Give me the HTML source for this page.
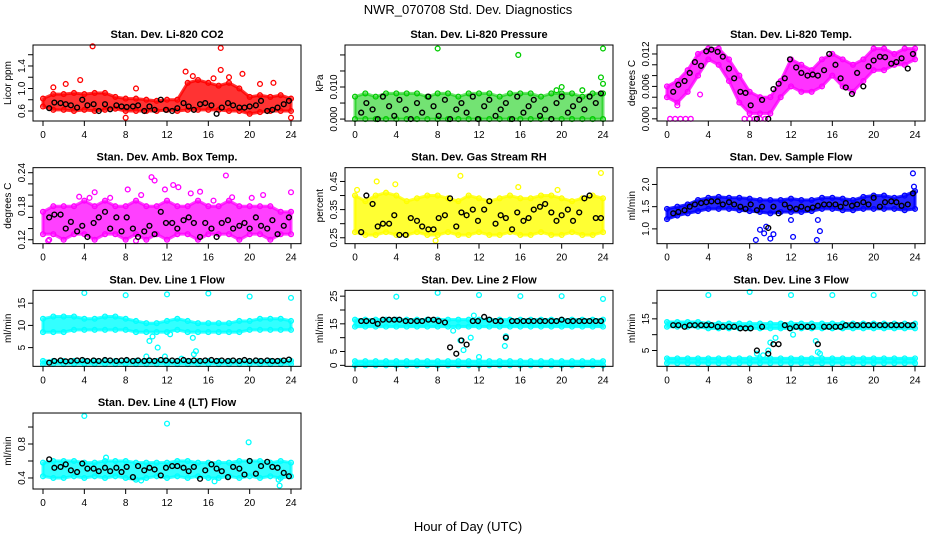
<!DOCTYPE html>
<html><head><meta charset="utf-8">
<style>
html,body{margin:0;padding:0;background:#fff;}
svg{display:block;font-family:"Liberation Sans",sans-serif;}
</style></head>
<body>
<svg id="chart" width="936" height="540" viewBox="0 0 936 540">
<text x="468" y="14" text-anchor="middle" font-size="13">NWR_070708  Std. Dev. Diagnostics</text>
<text x="468" y="531" text-anchor="middle" font-size="13">Hour of Day (UTC)</text>
</svg>
<script>
const bandH=[0,1,2,3,4,5,6,7,8,9,10,11,12,13,14,15,16,17,18,19,20,21,22,23,24];
const blackH=[0.6,1.1,1.7,2.2,2.7,3.3,3.8,4.3,4.9,5.4,6.0,6.5,7.1,7.6,8.1,8.7,9.2,9.8,10.3,10.8,11.4,11.9,12.5,13.0,13.6,14.1,14.6,15.2,15.7,16.3,16.8,17.3,17.9,18.4,19.0,19.5,20.0,20.6,21.1,21.7,22.2,22.7,23.3,23.8];
const xTicks=[0,4,8,12,16,20,24];

const co2Lo=[0.68,0.62,0.62,0.6,0.62,0.6,0.62,0.64,0.6,0.6,0.6,0.6,0.62,0.6,0.62,0.62,0.62,0.62,0.6,0.6,0.55,0.58,0.6,0.6,0.6];
const co2Hi=[0.82,0.9,0.9,0.92,0.9,0.92,0.92,0.85,0.82,0.82,0.8,0.78,0.8,0.8,1.1,1.15,1.1,1.05,1.1,1.0,0.85,0.88,0.85,0.88,0.82];
const co2OutH=[4.8,17.2,17.2,13.8,19.3,8.0,24,1.0,3.6,22.3,18.0,14.5,16.5,21.0,9.0,2.2];
const co2OutV=[1.75,1.72,1.33,1.3,1.26,0.48,0.48,1.02,1.15,1.1,1.2,1.22,1.18,1.08,1.0,1.08];
const co2Black=[0.65,0.75,0.74,0.72,0.70,0.66,0.80,0.70,0.72,0.60,0.72,0.63,0.70,0.68,0.67,0.68,0.70,0.60,0.68,0.62,0.80,0.62,0.60,0.65,0.74,0.68,0.62,0.72,0.74,0.70,0.55,0.66,0.74,0.70,0.66,0.66,0.68,0.70,0.78,0.60,0.62,0.66,0.72,0.78];

const presLo=[0,0,0,0,0,0,0,0,0,0,0,0,0,0,0,0,0,0,0,0,0,0,0,0,0];
const presHi=[0.007,0.008,0.007,0.008,0.008,0.008,0.008,0.007,0.008,0.008,0.007,0.008,0.008,0.008,0.007,0.008,0.008,0.008,0.007,0.008,0.008,0.008,0.007,0.008,0.008];
const presOutH=[8,15.8,24,23.8,24,20,19.5,22];
const presOutV=[0.022,0.020,0.022,0.013,0.011,0.010,0.009,0.009];
const presBlack=[0.002,0.005,0.003,0.000,0.007,0.004,0.001,0.006,0.003,0.000,0.005,0.002,0.007,0.004,0.001,0.006,0.000,0.003,0.005,0.002,0.007,0.000,0.004,0.006,0.001,0.003,0.005,0.000,0.007,0.002,0.004,0.006,0.001,0.003,0.000,0.005,0.007,0.002,0.004,0.006,0.003,0.007,0.005,0.008];

const tempLo=[0.004,0.003,0.005,0.008,0.011,0.010,0.007,0.003,0.001,0.001,0.001,0.004,0.006,0.005,0.005,0.006,0.008,0.006,0.005,0.007,0.009,0.009,0.010,0.010,0.011];
const tempHi=[0.006,0.007,0.009,0.012,0.013,0.013,0.011,0.008,0.005,0.004,0.004,0.007,0.011,0.010,0.009,0.011,0.012,0.011,0.010,0.011,0.013,0.013,0.012,0.013,0.013];
const tempOutH=[0.3,0.8,1.3,1.8,2.3,7.5,8.0,8.5,9.0,9.5,1.0,3.2];
const tempOutV=[0,0,0,0,0,0,0,0,0,0,0.0025,0.0045];
const tempBlack=[0.005,0.0063,0.007,0.0085,0.0105,0.0098,0.0125,0.0128,0.0124,0.0115,0.0093,0.0075,0.005,0.0048,0.0025,0.0,0.0035,0.0,0.0055,0.0065,0.0075,0.0110,0.0095,0.0085,0.008,0.0082,0.0080,0.0090,0.0120,0.0100,0.0075,0.0058,0.0046,0.0085,0.0060,0.0097,0.0108,0.0115,0.0114,0.0102,0.0105,0.0112,0.0093,0.0120];

const ambLo=[0.13,0.13,0.12,0.13,0.13,0.12,0.13,0.13,0.12,0.13,0.12,0.13,0.12,0.13,0.13,0.12,0.13,0.13,0.13,0.12,0.13,0.13,0.12,0.13,0.13];
const ambHi=[0.17,0.18,0.18,0.18,0.19,0.18,0.19,0.18,0.18,0.19,0.18,0.18,0.19,0.18,0.18,0.19,0.18,0.18,0.19,0.18,0.18,0.18,0.18,0.17,0.17];
const ambOutH=[0.5,5.0,8.2,9.5,10.5,10.8,11.8,12.6,13.1,14.3,15.2,17.7,18.3,21.3,24,3.5,6.5,16.5,20.2,0.6,4.5,9.0];
const ambOutV=[0.118,0.205,0.210,0.200,0.232,0.226,0.210,0.218,0.214,0.203,0.206,0.235,0.196,0.200,0.205,0.197,0.195,0.190,0.195,0.12,0.195,0.118];
const ambBlack=[0.16,0.165,0.165,0.14,0.152,0.135,0.145,0.125,0.15,0.16,0.17,0.14,0.16,0.135,0.16,0.14,0.125,0.135,0.145,0.13,0.17,0.15,0.15,0.14,0.155,0.16,0.15,0.125,0.15,0.14,0.125,0.15,0.155,0.14,0.145,0.15,0.14,0.16,0.145,0.14,0.155,0.13,0.145,0.16];

const rhLo=[0.27,0.26,0.26,0.27,0.26,0.26,0.27,0.26,0.26,0.27,0.26,0.26,0.27,0.26,0.26,0.27,0.26,0.26,0.27,0.26,0.26,0.27,0.26,0.26,0.27];
const rhHi=[0.40,0.38,0.40,0.41,0.40,0.38,0.39,0.40,0.40,0.39,0.38,0.40,0.39,0.38,0.39,0.40,0.39,0.39,0.40,0.40,0.39,0.38,0.39,0.40,0.39];
const rhOutH=[0.2,2.1,3.9,10.2,23.8,15.8,19.6,7.8];
const rhOutV=[0.42,0.45,0.44,0.47,0.48,0.43,0.42,0.24];
const rhBlack=[0.27,0.40,0.37,0.29,0.30,0.30,0.33,0.26,0.26,0.32,0.31,0.29,0.28,0.28,0.32,0.33,0.39,0.29,0.34,0.33,0.35,0.31,0.35,0.38,0.30,0.33,0.32,0.28,0.34,0.31,0.32,0.35,0.36,0.37,0.34,0.31,0.33,0.35,0.31,0.34,0.39,0.40,0.32,0.32];

const sfLo=[1.22,1.3,1.35,1.4,1.45,1.45,1.45,1.42,1.4,1.38,1.35,1.38,1.38,1.38,1.4,1.45,1.45,1.42,1.42,1.45,1.45,1.45,1.45,1.42,1.45];
const sfHi=[1.45,1.5,1.55,1.65,1.7,1.72,1.7,1.7,1.68,1.65,1.65,1.65,1.68,1.65,1.65,1.7,1.7,1.68,1.65,1.72,1.75,1.75,1.7,1.75,1.85];
const sfOutH=[8.6,9.0,9.4,9.6,10.0,10.3,12.2,14.5,14.8,14.6,12.0,23.8,23.9];
const sfOutV=[0.75,0.98,0.9,1.05,0.78,0.88,0.82,0.75,0.95,1.2,1.2,2.25,1.95];
const sfBlack=[1.35,1.38,1.42,1.5,1.55,1.58,1.6,1.62,1.62,1.55,1.6,1.55,1.5,1.45,1.55,1.42,1.5,1.02,1.5,1.35,1.55,1.48,1.45,1.5,1.45,1.48,1.52,1.55,1.55,1.55,1.5,1.58,1.52,1.55,1.6,1.55,1.7,1.5,1.6,1.62,1.6,1.52,1.55,1.8];

const l1Lo=[8.5,8.5,8.5,9,9,9,9,9,9,8.5,8.5,8.5,8.5,9,8.5,8.5,8.5,8.5,8.5,8.5,9,9,9,9,9];
const l1Hi=[11.5,12,12,12,11.5,11.5,12,12,11.5,11,10.5,10.5,11,11.5,11,10.5,10.5,10.5,10.5,11,11,11.5,11.5,11.5,11];
const l1Lo2=[1.3,1.3,1.3,1.3,1.3,1.3,1.3,1.3,1.3,1.3,1.3,1.3,1.3,1.3,1.3,1.3,1.3,1.3,1.3,1.3,1.3,1.3,1.3,1.3,1.3];
const l1Hi2=[2.0,2.0,2.0,2.0,2.0,2.0,2.0,2.0,2.0,2.0,2.0,2.0,2.0,2.0,2.0,2.0,2.0,2.0,2.0,2.0,2.0,2.0,2.0,2.0,2.0];
const l1OutH=[4,8,12,16,20,24,10,10.3,10.6,11.1,11.8,14.5,14.6,14.8,12.3,13.4];
const l1OutV=[17.3,16.8,17,17.2,16.5,16.2,3,6.5,7.5,5,3,7.2,3.5,4.2,8,2.5];
const l1Black=[1.6,2.0,2.1,1.9,2.0,2.1,2.2,2.0,2.1,2.0,2.2,2.1,2.0,2.1,2.2,2.0,2.1,2.0,2.1,2.0,2.2,2.1,2.1,2.0,2.2,2.0,2.1,2.0,2.1,2.2,2.0,2.1,2.0,2.1,2.0,2.2,2.0,2.1,2.0,2.1,2.0,2.0,2.1,2.3];

const l2Lo=[14,14,14,14,14,14,14,14,14,14,14,14,14,14,14,14,14,14,14,14,14,14,14,14,14];
const l2Hi=[16.5,16.5,16.5,16.5,16.5,16.5,16.5,16.5,16.5,16.5,16.5,16.5,16.5,16.5,16.5,16.5,16.5,16.5,16.5,16.5,16.5,16.5,16.5,16.5,16.5];
const l2Lo2=[0,0,0,0,0,0,0,0,0,0,0,0,0,0,0,0,0,0,0,0,0,0,0,0,0];
const l2Hi2=[1.5,1.5,1.5,1.5,1.5,1.5,1.5,1.5,1.5,1.5,1.5,1.5,1.5,1.5,1.5,1.5,1.5,1.5,1.5,1.5,1.5,1.5,1.5,1.5,1.5];
const l2OutH=[4,8,12,16,20,24,9.5,10.2,10.5,11.2,14.5,14.6,12.0,11.5];
const l2OutV=[24.8,26.2,25.4,25,25,24,12.5,9,5.5,10,7,10.5,3,18];
const l2Black=[16,16,16,15,16.5,16.5,16.5,16.5,16,16,16,16,16.5,16.5,16,15.5,6.5,4.2,9,7.5,16,16,17.5,16.5,16,16,10,16,16,16,16,16,16,16,16,16,16.5,16,16,16,16,16,16,16];

const l3Lo=[12.5,12.5,12.5,12.5,12,12,12,12,12,12,12,12,12,12,12,12,12,12,12,12,12,12,12,12,12];
const l3Hi=[14,14,14,14,13.5,13.5,13.5,13.5,13.5,13.5,13.5,13.5,13.5,13.5,13.5,13.5,13.5,13.5,13.5,13.5,13.5,13.5,13.5,13.5,13.5];
const l3Lo2=[1,1,1,1,1,1,1,1,1,1,1,1,1,1,1,1,1,1,1,1,1,1,1,1,1];
const l3Hi2=[2.5,2.5,2.5,2.5,2.5,2.5,2.5,2.5,2.5,2.5,2.5,2.5,2.5,2.5,2.5,2.5,2.5,2.5,2.5,2.5,2.5,2.5,2.5,2.5,2.5];
const l3OutH=[4,8,12,16,20,24,8.7,9.3,9.8,10,10.5,12.2,14.4,14.6,14.8,11];
const l3OutV=[22.5,23.5,22.5,22.5,22.5,23,4,3.5,5,7.5,9,10,8,4.5,4,12.5];
const l3Black=[13,13,12.5,13,13,13,13,13,12.5,12.5,12.5,12.5,12,12,12,5,12.5,4,7,7,13,12,12.5,12.5,12.5,12.5,7,12.5,12.5,12.5,12.5,13,13,13,13,13,13,13,13,13,13,13,13,13];

const l4Lo=[0.42,0.4,0.4,0.42,0.4,0.42,0.4,0.42,0.4,0.38,0.4,0.42,0.4,0.42,0.4,0.42,0.4,0.4,0.42,0.4,0.42,0.4,0.42,0.4,0.42];
const l4Hi=[0.58,0.6,0.6,0.6,0.58,0.58,0.6,0.6,0.6,0.58,0.58,0.58,0.58,0.6,0.6,0.58,0.58,0.58,0.58,0.6,0.6,0.6,0.58,0.6,0.58];
const l4OutH=[4,12,19.9,22.9,6.1,16.6,9.5,22.8];
const l4OutV=[1.13,1.04,0.82,0.31,0.64,0.36,0.37,0.38];
const l4Black=[0.62,0.52,0.53,0.56,0.49,0.47,0.57,0.51,0.51,0.48,0.52,0.48,0.52,0.47,0.53,0.41,0.54,0.49,0.52,0.5,0.43,0.52,0.54,0.54,0.52,0.48,0.53,0.39,0.49,0.56,0.51,0.48,0.41,0.53,0.51,0.44,0.6,0.45,0.54,0.59,0.53,0.52,0.46,0.42];

const panels=[
 {name:"co2",title:"Stan. Dev. Li-820 CO2",ylab:"Licor ppm",col:0,row:0,color:"#ff0000",op:0.8,ymin:0.422,ymax:1.773,ticks:[0.6,0.8,1.0,1.2,1.4,1.6],labels:["0.6","","1.0","","1.4",""],lo:co2Lo,hi:co2Hi,oh:co2OutH,ov:co2OutV,bk:co2Black},
 {name:"pressure",title:"Stan. Dev. Li-820 Pressure",ylab:"kPa",col:1,row:0,color:"#00cc00",op:0.55,ymin:-0.0006,ymax:0.0231,ticks:[0,0.005,0.010,0.015,0.020],labels:["0.000","","0.010","",""],lo:presLo,hi:presHi,oh:presOutH,ov:presOutV,bk:presBlack},
 {name:"li820-temp",title:"Stan. Dev. Li-820 Temp.",ylab:"degrees C",col:2,row:0,color:"#ff00ff",op:0.8,ymin:-0.0004,ymax:0.01366,ticks:[0,0.002,0.004,0.006,0.008,0.010,0.012],labels:["0.000","","","0.006","","","0.012"],lo:tempLo,hi:tempHi,oh:tempOutH,ov:tempOutV,bk:tempBlack},
 {name:"amb-box-temp",title:"Stan. Dev. Amb. Box Temp.",ylab:"degrees C",col:0,row:1,color:"#ff00ff",op:0.75,ymin:0.113,ymax:0.249,ticks:[0.12,0.14,0.16,0.18,0.20,0.22,0.24],labels:["0.12","","","0.18","","","0.24"],lo:ambLo,hi:ambHi,oh:ambOutH,ov:ambOutV,bk:ambBlack},
 {name:"gas-rh",title:"Stan. Dev. Gas Stream RH",ylab:"percent",col:1,row:1,color:"#ffff00",op:0.8,ymin:0.229,ymax:0.499,ticks:[0.25,0.30,0.35,0.40,0.45],labels:["0.25","","0.35","","0.45"],lo:rhLo,hi:rhHi,oh:rhOutH,ov:rhOutV,bk:rhBlack},
 {name:"sample-flow",title:"Stan. Dev. Sample Flow",ylab:"ml/min",col:2,row:1,color:"#0000ff",op:0.85,ymin:0.667,ymax:2.378,ticks:[1.0,1.5,2.0],labels:["1.0","1.5","2.0"],lo:sfLo,hi:sfHi,oh:sfOutH,ov:sfOutV,bk:sfBlack},
 {name:"line1-flow",title:"Stan. Dev. Line 1 Flow",ylab:"ml/min",col:0,row:2,color:"#00ffff",op:0.8,ymin:0.78,ymax:17.9,ticks:[5,10,15],labels:["5","10","15"],lo:l1Lo,hi:l1Hi,lo2:l1Lo2,hi2:l1Hi2,oh:l1OutH,ov:l1OutV,bk:l1Black},
 {name:"line2-flow",title:"Stan. Dev. Line 2 Flow",ylab:"ml/min",col:1,row:2,color:"#00ffff",op:0.85,ymin:-0.36,ymax:27.1,ticks:[0,5,10,15,20,25],labels:["0","5","","15","","25"],lo:l2Lo,hi:l2Hi,lo2:l2Lo2,hi2:l2Hi2,oh:l2OutH,ov:l2OutV,bk:l2Black},
 {name:"line3-flow",title:"Stan. Dev. Line 3 Flow",ylab:"ml/min",col:2,row:2,color:"#00ffff",op:0.85,ymin:0,ymax:24,ticks:[5,10,15,20],labels:["5","","15",""],lo:l3Lo,hi:l3Hi,lo2:l3Lo2,hi2:l3Hi2,oh:l3OutH,ov:l3OutV,bk:l3Black},
 {name:"line4-flow",title:"Stan. Dev. Line 4 (LT) Flow",ylab:"ml/min",col:0,row:3,color:"#00ffff",op:0.8,ymin:0.27,ymax:1.165,ticks:[0.4,0.6,0.8,1.0],labels:["0.4","","0.8",""],lo:l4Lo,hi:l4Hi,oh:l4OutH,ov:l4OutV,bk:l4Black}
];

const svg=document.getElementById('chart');
const NS="http://www.w3.org/2000/svg";
function mk(tag,attrs,parent){const e=document.createElementNS(NS,tag);for(const k in attrs)e.setAttribute(k,attrs[k]);parent.appendChild(e);return e;}

panels.forEach(p=>{
  const bx=33+312*p.col, bw=268, by=45+122.67*p.row, bh=76;
  const x0=43+312*p.col, xw=248;
  const X=h=>x0+h/24*xw;
  const Y=v=>by+bh-(v-p.ymin)/(p.ymax-p.ymin)*bh;
  const g=mk('g',{},svg);
  
  
  const t=mk('text',{x:bx+bw/2,y:by-7,'text-anchor':'middle','font-size':11,'font-weight':'bold'},g);
  t.textContent=p.title;
  
  
  const clip=mk('g',{},g);
  
  
  function band(lo,hi,nm){
    let d='M'+bandH.map((h,i)=>X(h)+','+Y(hi[i])).join('L')+'L'+bandH.slice().reverse().map((h,j)=>{const i=bandH.length-1-j;return X(h)+','+Y(lo[i]);}).join('L')+'Z';
    const b=mk('path',{d:d,fill:p.color,'fill-opacity':p.op,stroke:p.color,'stroke-opacity':p.op,'stroke-width':3,'stroke-linejoin':'round'},clip);
    
    
    bandH.forEach((h,i)=>{
      [lo[i],hi[i]].forEach(v=>{
        const c=mk('circle',{cx:X(h),cy:Y(v),r:2.4,fill:'none',stroke:p.color,'stroke-width':1.3},clip);
        
        
      });
    });
  }
  band(p.lo,p.hi,'band');
  if(p.lo2)band(p.lo2,p.hi2,'lower-band');
  p.oh.forEach((h,i)=>{
    const c=mk('circle',{cx:X(h),cy:Y(p.ov[i]),r:2.4,fill:'none',stroke:p.color,'stroke-width':1.3},clip);
    
    
  });
  blackH.forEach((h,i)=>{
    const c=mk('circle',{cx:X(h),cy:Y(p.bk[i]),r:2.4,fill:'none',stroke:'#000','stroke-width':1.4},clip);
    
    
  });
  const box=mk('rect',{x:bx,y:by,width:bw,height:bh,fill:'none',stroke:'#000','stroke-width':1},g);
  
  
  const xa=mk('g',{},g);
  
  
  xTicks.forEach(h=>{
    mk('line',{x1:X(h),x2:X(h),y1:by+bh,y2:by+bh+5,stroke:'#000'},xa);
    const tl=mk('text',{x:X(h),y:by+bh+17,'text-anchor':'middle','font-size':10},xa);
    tl.textContent=h;
  });
  const ya=mk('g',{},g);
  
  
  p.ticks.forEach((v,i)=>{
    const yy=Y(v);
    mk('line',{x1:bx-5,x2:bx,y1:yy,y2:yy,stroke:'#000'},ya);
    if(p.labels[i]){
      const tl=mk('text',{x:bx-8,y:yy,'text-anchor':'middle','font-size':10,transform:`rotate(-90 ${bx-8} ${yy})`},ya);
      tl.textContent=p.labels[i];
    }
  });
  const yl=mk('text',{x:bx-22,y:by+bh/2,'text-anchor':'middle','font-size':10,transform:`rotate(-90 ${bx-22} ${by+bh/2})`},g);
  yl.textContent=p.ylab;
  
  
});
</script>
</body></html>
